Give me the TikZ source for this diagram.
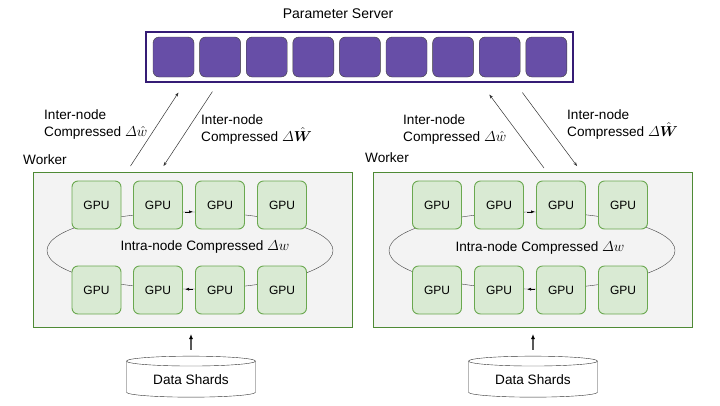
\documentclass[tikz,border=0pt]{standalone}
\usepackage{amsmath,bm}
\usepackage[no-math]{fontspec}
\setmainfont{Liberation Sans}
\usetikzlibrary{arrows.meta,calc,positioning,shapes.geometric}
\definecolor{psline}{HTML}{351C75}
\definecolor{psfill}{HTML}{674EA7}
\definecolor{wkline}{HTML}{4E8A35}
\definecolor{wkfill}{HTML}{F3F3F3}
\definecolor{gpuline}{HTML}{6AA84F}
\definecolor{gpufill}{HTML}{D9EAD3}
\newcommand{\txtsize}{\fontsize{13.6}{17}\selectfont}
\newcommand{\gpusize}{\fontsize{12}{14}\selectfont}
\newcommand{\Dlt}{\varDelta}
\tikzset{>=Stealth}
\tikzset{
  psbox/.style={draw=psline, line width=1.2pt, fill=white, minimum width=427, minimum height=50},
  cell/.style={draw=black!75, fill=psfill, rounded corners=6pt, minimum width=41, minimum height=40},
  workerbox/.style={draw=wkline, line width=1pt, fill=wkfill, minimum width=319, minimum height=155},
  gpu/.style={draw=gpuline, line width=0.9pt, fill=gpufill, rounded corners=6pt, minimum width=49, minimum height=48, font=\gpusize},
  ring/.style={draw=black!75, ellipse, minimum width=286, minimum height=77},
  shard/.style={draw=black!80, cylinder, shape border rotate=90, aspect=0.12, minimum width=129, minimum height=41, font=\txtsize},
  lbl/.style={inner sep=0pt, align=left, font=\txtsize},
  link/.style={->, black!80, line width=0.5pt, >={Stealth[length=4pt,width=3pt]}},
  ringarrow/.style={->, black, line width=0.6pt, >={Latex[length=4pt,width=3pt]}},
  feed/.style={->, black, line width=1.3pt, >={Latex[length=5pt,width=4pt]}}
}

\begin{document}
\begin{tikzpicture}[x=1pt,y=-1pt]
  \useasboundingbox (0,0) rectangle (720,405);
  % parameter server
  \node[psbox] (ps) at (359.5,57) {};
  \foreach \i in {0,...,8}
    \node[cell] (cell\i) at (173.5+46.6*\i,57) {};
  \node[lbl, font=\fontsize{14}{17}\selectfont] (pstitle) at (338,14) {Parameter Server};

  % workers
  \node[workerbox] (w1) at (192.5,250) {};
  \node[workerbox] (w2) at (533,250) {};
  \node[lbl, anchor=west] (w1lbl) at (23,160) {Worker};
  \node[lbl, anchor=west] (w2lbl) at (365,158) {Worker};

  % rings
  \node[ring] (ring1) at (190,250.5) {};
  \node[ring] (ring2) at (532,250.5) {};
  \foreach \k/\x in {1/96.5,2/158,3/220,4/282} {
    \node[gpu] (a\k) at (\x,205) {GPU};
    \node[gpu] (b\k) at (\x,290) {GPU};
  }
  \foreach \k/\x in {1/437,2/499,3/561,4/623} {
    \node[gpu] (c\k) at (\x,205) {GPU};
    \node[gpu] (d\k) at (\x,290) {GPU};
  }
  \draw[ringarrow] ($(ring1.north)+(-5,0)$) -- ($(ring1.north)+(3,0)$);
  \draw[ringarrow] ($(ring1.south)+(3,0)$) -- ($(ring1.south)+(-5,0)$);
  \draw[ringarrow] ($(ring2.north)+(-5,0)$) -- ($(ring2.north)+(3,0)$);
  \draw[ringarrow] ($(ring2.south)+(3,0)$) -- ($(ring2.south)+(-5,0)$);
  \node[lbl] (r1lbl) at (205,247) {Intra-node Compressed $\Dlt w$};
  \node[lbl] (r2lbl) at (540,248) {Intra-node Compressed $\Dlt w$};

  % inter-node traffic
  \draw[link] ($(w1.north west)+(98,-6)$) -- ($(ps.south west)+(33,10)$);
  \draw[link] ($(ps.south west)+(67,9)$) -- ($(w1.north west)+(131,-6)$);
  \draw[link] ($(w2.north west)+(171,-4)$) -- ($(ps.south west)+(344,12)$);
  \draw[link] ($(ps.south west)+(377,10)$) -- ($(w2.north west)+(204,-6)$);
  \node[lbl, anchor=west] (up1) at (44,124.5) {Inter-node\\Compressed $\Dlt\hat{w}$};
  \node[lbl, anchor=west] (dn1) at (201,129) {Inter-node\\Compressed $\Dlt\hat{\bm{W}}$};
  \node[lbl, anchor=west] (up2) at (403,129) {Inter-node\\Compressed $\Dlt\hat{w}$};
  \node[lbl, anchor=west] (dn2) at (567,124.5) {Inter-node\\Compressed $\Dlt\hat{\bm{W}}$};

  % data
  \node[shard] (ds1) at (191,380) {Data Shards};
  \node[shard] (ds2) at (533,380) {Data Shards};
  \draw[feed, shorten <=6pt, shorten >=6pt] (ds1) -- (ds1 |- w1.south);
  \draw[feed, shorten <=6pt, shorten >=6pt] (ds2) -- (ds2 |- w2.south);
\end{tikzpicture}
\end{document}
